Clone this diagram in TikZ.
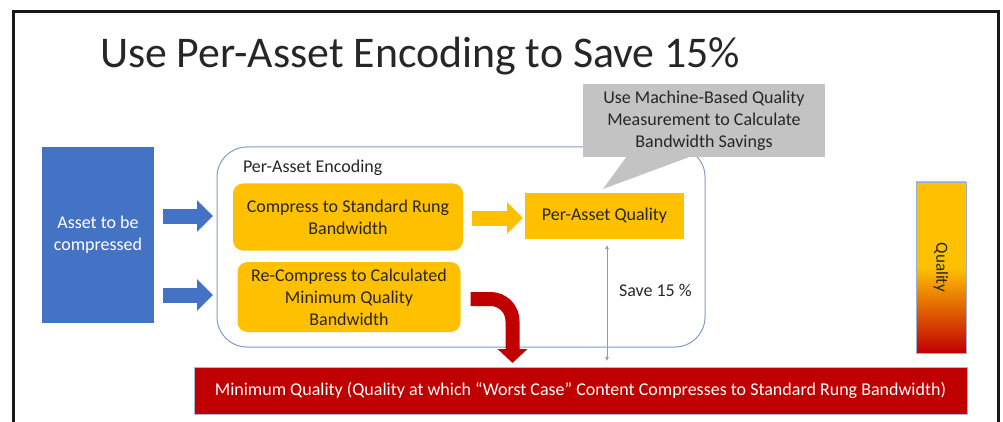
\documentclass[tikz,border=0pt]{standalone}
\usepackage{fontspec}
\setmainfont{Carlito}
\usepackage{xcolor}
\usetikzlibrary{positioning,calc,arrows.meta}

\definecolor{assetblue}{HTML}{4472C4}
\definecolor{encyellow}{HTML}{FFC000}
\definecolor{minred}{HTML}{C00000}
\definecolor{notegray}{HTML}{C3C3C3}
\definecolor{boxline}{HTML}{7F9CC4}
\definecolor{textdark}{HTML}{262626}

% yellow on top, red at the bottom
\pgfdeclareverticalshading{qualshade}{100bp}{color(0bp)=(minred); color(25bp)=(minred); color(50bp)=(encyellow); color(100bp)=(encyellow)}

\begin{document}
\begin{tikzpicture}[x=1pt,y=-1pt,
    every node/.style={inner sep=0pt, outer sep=0pt, text=textdark},
    txt/.style={font=\fontsize{18}{22}\selectfont},
    stepbox/.style={txt, fill=encyellow, rounded corners=10pt, align=center},
    blockarrow/.style={line width=15pt, -{Triangle[width=31pt,length=16pt]}},
    redarrow/.style={minred, line width=14pt, rounded corners=22pt, -{Triangle[width=29pt,length=14pt]}},
    savearrow/.style={boxline, line width=0.8pt, {Latex[length=4pt,width=4pt]}-{Latex[length=4pt,width=4pt]}}]
    \useasboundingbox (0,0) rectangle (1003,422);

    % slide frame
    \draw[line width=3pt, black!90] (13.5,425) |- (998.5,11.5) -- (998.5,425);

    \node[anchor=base west, font=\fontsize{43.8}{48}\selectfont, text=black!85] (title) at (100,68) {Use Per-Asset Encoding to Save 15\%};

    % input
    \node[txt, fill=assetblue, text=white, align=center, minimum width=112pt, minimum height=176pt] (asset) at (98,235) {Asset to be\\compressed};

    % encoding group
    \node[draw=boxline, line width=1pt, rounded corners=30pt, minimum width=488pt, minimum height=200pt] (enc) at (461,247) {};
    \node[txt, anchor=base west] (enclabel) at (243,173) {Per-Asset Encoding};

    \node[stepbox, minimum width=230pt, minimum height=67pt] (compress) at (348,217) {Compress to Standard Rung\\Bandwidth};
    \node[stepbox, minimum width=223pt, minimum height=70pt] (recompress) at (349,297) {Re-Compress to Calculated\\Minimum Quality\\Bandwidth};
    \node[txt, fill=encyellow, minimum width=159pt, minimum height=46pt] (qual) at (604.5,216) {Per-Asset Quality};

    % callout
    \node[txt, fill=notegray, align=center, minimum width=242pt, minimum height=73pt] (note) at (704,120.5) {Use Machine-Based Quality\\Measurement to Calculate\\Bandwidth Savings};
    \fill[notegray] ($(note.south west)+(44,-1)$) -- ($(qual.north)+(-1.5,-4)$) -- ($(note.south west)+(109,-1)$) -- cycle;

    % quality scale
    \node[shading=qualshade, draw=boxline!80, line width=0.6pt, minimum width=50pt, minimum height=171pt] (qbar) at (941,267.5) {};
    \node[font=\fontsize{17}{20}\selectfont, rotate=-90] (qlabel) at (qbar.center) {Quality};

    % minimum quality
    \node[txt, fill=minred, draw=boxline!70, line width=0.6pt, text=white, minimum width=773pt, minimum height=47pt] (minbar) at (580.5,390.5) {Minimum Quality (Quality at which “Worst Case” Content Compresses to Standard Rung Bandwidth)};

    % arrows
    \draw[blockarrow, assetblue] ($(asset.east)+(9,-19)$) -- ($(enc.west)+(-4,-31)$);
    \draw[blockarrow, assetblue] ($(asset.east)+(9,60)$) -- ($(enc.west)+(-4,48)$);
    \draw[blockarrow, encyellow] ($(compress.east)+(9,1)$) -- ($(qual.west)+(-2,2)$);
    \draw[redarrow] ($(recompress.east)+(10,2)$) -| ($(recompress.east |- minbar.north)+(52,-4)$);
    \draw[savearrow] ($(qual.south)+(2.5,6)$) -- ($(qual.south |- minbar.north)+(2.5,-6)$);
    \node[txt, anchor=west] (save) at (619,290) {Save 15 \%};
\end{tikzpicture}
\end{document}
